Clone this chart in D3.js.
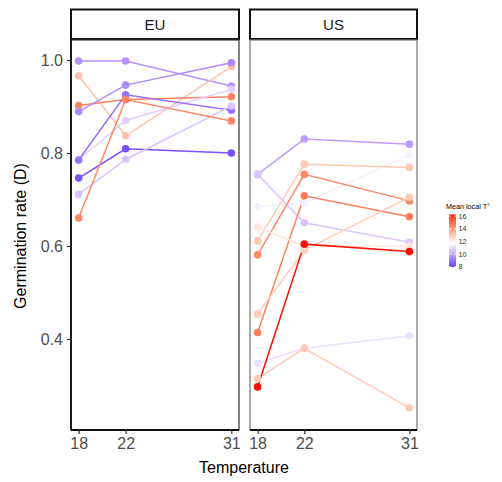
<!DOCTYPE html>
<html><head><meta charset="utf-8">
<script src="https://cdn.jsdelivr.net/npm/d3@7/dist/d3.min.js"></script>
<style>body{margin:0;background:#fff}svg{display:block;font-family:"Liberation Sans",Arial,sans-serif}</style>
</head><body><svg id="c" width="502" height="482"></svg>
<script>
const regions = ["EU", "US"];
const temps = [18, 22, 31];
const yTicks = [0.4, 0.6, 0.8, 1.0];
const legendTicks = [8, 10, 12, 14, 16];
// Germination rate per population at 18, 22, 31 degrees
const euRates = [
  [0.998, 0.998, 0.944],
  [0.966, 0.837, 0.986],
  [0.902, 0.915, 0.921],
  [0.889, 0.946, 0.994],
  [0.785, 0.870, 0.937],
  [0.785, 0.925, 0.892],
  [0.746, 0.809, 0.800],
  [0.711, 0.786, 0.901],
  [0.660, 0.915, 0.869]
];
const euLocalT = [9.6, 13.2, 14.6, 9.4, 10.8, 8.9, 8.3, 10.6, 14.5];
const usRates = [
  [0.754, 0.830, 0.819],
  [0.754, 0.650, 0.608],
  [0.685, 0.692, 0.796],
  [0.611, 0.776, 0.769],
  [0.581, 0.754, 0.697],
  [0.414, 0.708, 0.663],
  [0.454, 0.591, 0.705],
  [0.641, 0.600, 0.600],
  [0.348, 0.380, 0.407],
  [0.315, 0.380, 0.252],
  [0.297, 0.604, 0.588]
];
const usLocalT = [9.8, 10.6, 11.4, 13.0, 14.5, 14.7, 12.9, 12.3, 11.1, 13.0, 16.2];

const svg = d3.select("#c");
svg.append("rect").attr("width", 502).attr("height", 482).attr("fill", "#fff");

// colour scale (diverging, Lab interpolation)
const tLim = [7.95, 16.25], tMid = 11.7;
const maxDist = Math.max(tMid - tLim[0], tLim[1] - tMid);
const lowI = d3.interpolateLab("blue", "white");
const highI = d3.interpolateLab("white", "red");
function colour(t) {
  const s = 0.5 + (t - tMid) / (2 * maxDist);
  return s < 0.5 ? lowI(s * 2) : highI((s - 0.5) * 2);
}

const panels = [
  {name: "EU", x0: 71, x1: 239, rates: euRates, localT: euLocalT},
  {name: "US", x0: 250, x1: 417, rates: usRates, localT: usLocalT}
];
const yTop = 40, yBot = 430;
const y = d3.scaleLinear().domain([0.2043, 1.043]).range([yBot, yTop]);

panels.forEach((p, pi) => {
  const x = d3.scaleLinear().domain([17.35, 31.65]).range([p.x0, p.x1]);
  const g = svg.append("g");
  // strip
  g.append("rect").attr("x", p.x0).attr("y", 9.5).attr("width", p.x1 - p.x0).attr("height", 29.5)
    .attr("fill", "#fff").attr("stroke", "#111").attr("stroke-width", 2);
  g.append("text").attr("x", (p.x0 + p.x1) / 2).attr("y", 29.5).attr("text-anchor", "middle")
    .attr("font-size", 15).attr("fill", "#1a1a1a").text(p.name);
  // panel border
  g.append("rect").attr("x", p.x0).attr("y", yTop).attr("width", p.x1 - p.x0).attr("height", yBot - yTop)
    .attr("fill", "none").attr("stroke", pi === 0 ? "#333" : "#777").attr("stroke-width", 1.2);
  // x axis
  const xa = g.append("g").attr("transform", `translate(0,${yBot})`)
    .call(d3.axisBottom(x).tickValues(temps).tickSize(4).tickPadding(4).tickSizeOuter(0));
  xa.select(".domain").attr("stroke", "#111").attr("stroke-width", 1.8)
    .attr("d", `M${p.x0},0H${p.x1}`);
  xa.selectAll(".tick line").attr("stroke", "#333").attr("stroke-width", 1.2);
  xa.selectAll(".tick text").attr("font-size", 16).attr("fill", "#4d4d4d")
    .attr("font-family", "Liberation Sans, Arial, sans-serif");
  if (pi === 0) {
    const ya = g.append("g").attr("transform", `translate(${p.x0},0)`)
      .call(d3.axisLeft(y).tickValues(yTicks).tickFormat(d3.format(".1f")).tickSize(4).tickPadding(4).tickSizeOuter(0));
    ya.select(".domain").attr("stroke", "#111").attr("stroke-width", 1.8)
      .attr("d", `M0,${yTop}V${yBot}`);
    ya.selectAll(".tick line").attr("stroke", "#333").attr("stroke-width", 1.2);
    ya.selectAll(".tick text").attr("font-size", 16).attr("fill", "#4d4d4d")
      .attr("font-family", "Liberation Sans, Arial, sans-serif");
  }
  const line = d3.line().x((d, i) => x(temps[i])).y(d => y(d));
  p.rates.forEach((r, i) => {
    g.append("path").attr("d", line(r)).attr("fill", "none")
      .attr("stroke", colour(p.localT[i])).attr("stroke-width", 1.5);
  });
  p.rates.forEach((r, i) => {
    g.selectAll(null).data(r).enter().append("circle")
      .attr("cx", (d, j) => x(temps[j])).attr("cy", d => y(d)).attr("r", 3.8)
      .attr("fill", colour(p.localT[i]));
  });
});

// axis titles
svg.append("text").attr("x", 244).attr("y", 473).attr("text-anchor", "middle")
  .attr("font-size", 16).attr("fill", "#000").text("Temperature");
svg.append("text").attr("transform", "translate(26,236) rotate(-90)").attr("text-anchor", "middle")
  .attr("font-size", 16).attr("fill", "#000").text("Germination rate (D)");

// legend
const lx = 449, lw = 7;
const ly = d3.scaleLinear().domain(tLim).range([267, 214.5]);
const defs = svg.append("defs");
const grad = defs.append("linearGradient").attr("id", "lg").attr("x1", 0).attr("y1", 1).attr("x2", 0).attr("y2", 0);
d3.range(0, 1.0001, 0.05).forEach(f => {
  const t = tLim[0] + f * (tLim[1] - tLim[0]);
  grad.append("stop").attr("offset", f).attr("stop-color", colour(t));
});
svg.append("rect").attr("x", lx).attr("y", ly(tLim[1])).attr("width", lw)
  .attr("height", ly(tLim[0]) - ly(tLim[1])).attr("fill", "url(#lg)");
legendTicks.forEach(t => {
  svg.append("line").attr("x1", lx).attr("x2", lx + 1.5).attr("y1", ly(t)).attr("y2", ly(t)).attr("stroke", "#fff");
  svg.append("line").attr("x1", lx + lw - 1.5).attr("x2", lx + lw).attr("y1", ly(t)).attr("y2", ly(t)).attr("stroke", "#fff");
  svg.append("text").attr("x", lx + lw + 2.5).attr("y", ly(t) + 2.6).attr("font-size", 7.2).attr("fill", "#333").text(t);
});
svg.append("text").attr("x", 446).attr("y", 208.5).attr("font-size", 7.2).attr("fill", "#000").text("Mean local T°");
</script></body></html>
